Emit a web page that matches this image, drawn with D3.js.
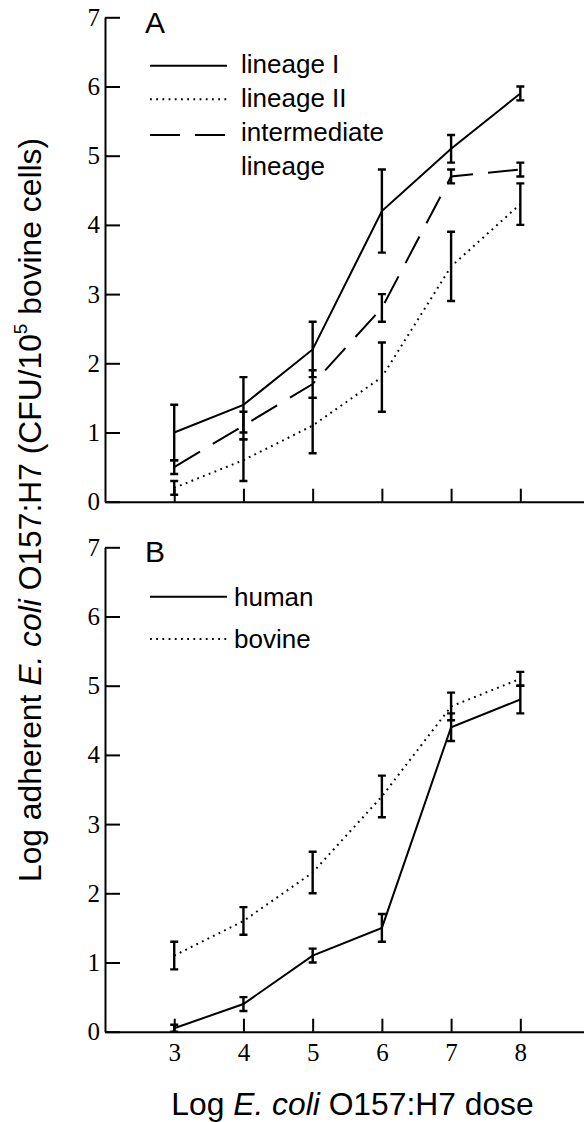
<!DOCTYPE html>
<html>
<head>
<meta charset="utf-8">
<script src="https://cdn.jsdelivr.net/npm/d3@7"></script>
<style>
  html, body { margin: 0; padding: 0; background: #fff; }
  svg { display: block; }
</style>
</head>
<body>
<svg id="chart" width="584" height="1122"></svg>
<script>
// Dose levels (log10 CFU) on the x axis
const doses = [3, 4, 5, 6, 7, 8];
const yTicks = [0, 1, 2, 3, 4, 5, 6, 7];

// Panel A: adherence by lineage (mean and error)
const lineageI = [1.0, 1.4, 2.2, 4.2, 5.1, 5.9];
const lineageIErr = [0.4, 0.4, 0.4, 0.6, 0.2, 0.1];
const lineageII = [0.2, 0.6, 1.1, 1.8, 3.4, 4.3];
const lineageIIErr = [0.1, 0.3, 0.4, 0.5, 0.5, 0.3];
const intermediate = [0.5, 1.1, 1.7, 2.8, 4.7, 4.8];
const intermediateErr = [0.1, 0.2, 0.2, 0.2, 0.1, 0.1];

// Panel B: adherence by isolate source
const human = [0.05, 0.4, 1.1, 1.5, 4.4, 4.8];
const humanErr = [0.05, 0.1, 0.1, 0.2, 0.2, 0.2];
const bovine = [1.1, 1.6, 2.3, 3.4, 4.7, 5.1];
const bovineErr = [0.2, 0.2, 0.3, 0.3, 0.2, 0.1];

const SANS = "'Liberation Sans', Arial, sans-serif";
const SERIF = "'Liberation Serif', 'Times New Roman', serif";

const svg = d3.select("#chart");

const x = d3.scaleLinear().domain([2, 8.92]).range([105, 584]);
const yA = d3.scaleLinear().domain([0, 7]).range([501.7, 17.3]);
const yB = d3.scaleLinear().domain([0, 7]).range([1031.7, 547.3]);

const styles = {
  solid: null,
  dotted: "1.8,4.4",
  dashed: "30,15"
};

function drawPanel(y, letter, series, legend, showXLabels) {
  const g = svg.append("g");

  // y axis: ticks pointing inward, serif numerals
  const ya = g.append("g")
    .attr("transform", `translate(${x(2)},0)`)
    .call(d3.axisLeft(y).tickValues(yTicks).tickSize(-15).tickSizeOuter(0).tickPadding(5).tickFormat(d3.format("d")));
  ya.selectAll("path, line").attr("stroke", "#000").attr("stroke-width", 2);
  ya.selectAll("text").attr("font-family", SERIF).attr("font-size", 25).attr("fill", "#000");

  // x axis: upward ticks
  const xa = g.append("g")
    .attr("transform", `translate(0,${y(0)})`)
    .call(d3.axisBottom(x).tickValues(doses).tickSize(-13).tickSizeOuter(0).tickPadding(11.5)
      .tickFormat(showXLabels ? d3.format("d") : () => ""));
  xa.selectAll("path, line").attr("stroke", "#000").attr("stroke-width", 2);
  xa.selectAll("text").attr("font-family", SERIF).attr("font-size", 25).attr("fill", "#000");

  // error bars
  series.forEach(s => {
    const path = d3.path();
    s.values.forEach((v, i) => {
      const cx = x(doses[i]);
      const top = y(v + s.err[i]);
      const bot = y(Math.max(0, v - s.err[i]));
      path.moveTo(cx, top); path.lineTo(cx, bot);
      path.moveTo(cx - 4, top); path.lineTo(cx + 4, top);
      path.moveTo(cx - 4, bot); path.lineTo(cx + 4, bot);
    });
    g.append("path")
      .attr("d", path.toString())
      .attr("fill", "none")
      .attr("stroke", "#000")
      .attr("stroke-width", 2.4);
  });

  // series lines
  const line = d3.line().x((d, i) => x(doses[i])).y(d => y(d));
  series.forEach(s => {
    g.append("path")
      .attr("d", line(s.values))
      .attr("fill", "none")
      .attr("stroke", "#000")
      .attr("stroke-width", 2)
      .attr("stroke-dasharray", styles[s.style]);
  });

  // panel letter
  g.append("text")
    .attr("x", 145).attr("y", legend.letterY)
    .attr("font-family", SANS).attr("font-size", 30)
    .text(letter);

  // legend
  legend.rows.forEach(r => {
    if (r.style !== undefined) {
      g.append("line")
        .attr("x1", 150).attr("x2", 227)
        .attr("y1", r.lineY).attr("y2", r.lineY)
        .attr("stroke", "#000").attr("stroke-width", 2)
        .attr("stroke-dasharray", styles[r.style]);
    }
    g.append("text")
      .attr("x", legend.textX).attr("y", r.textY)
      .attr("font-family", SANS).attr("font-size", 26)
      .text(r.label);
  });
}

drawPanel(yA, "A", [
  { values: lineageI, err: lineageIErr, style: "solid" },
  { values: lineageII, err: lineageIIErr, style: "dotted" },
  { values: intermediate, err: intermediateErr, style: "dashed" }
], {
  letterY: 33,
  textX: 241,
  rows: [
    { label: "lineage I", style: "solid", lineY: 65.7, textY: 73 },
    { label: "lineage II", style: "dotted", lineY: 99.3, textY: 107 },
    { label: "intermediate", style: "dashed", lineY: 135, textY: 141 },
    { label: "lineage", textY: 175 }
  ]
}, false);

drawPanel(yB, "B", [
  { values: human, err: humanErr, style: "solid" },
  { values: bovine, err: bovineErr, style: "dotted" }
], {
  letterY: 562,
  textX: 234,
  rows: [
    { label: "human", style: "solid", lineY: 596.7, textY: 606 },
    { label: "bovine", style: "dotted", lineY: 639, textY: 648 }
  ]
}, true);

// x axis title
const xt = svg.append("text")
  .attr("x", 352.5).attr("y", 1115)
  .attr("text-anchor", "middle")
  .attr("font-family", SANS).attr("font-size", 31.8);
xt.append("tspan").text("Log ");
xt.append("tspan").attr("font-style", "italic").text("E. coli");
xt.append("tspan").text(" O157:H7 dose");

// y axis title (shared by both panels)
const yt = svg.append("text")
  .attr("transform", "translate(41,510) rotate(-90)")
  .attr("text-anchor", "middle")
  .attr("font-family", SANS).attr("font-size", 31.8);
yt.append("tspan").text("Log adherent ");
yt.append("tspan").attr("font-style", "italic").text("E. coli");
yt.append("tspan").text(" O157:H7 (CFU/10");
yt.append("tspan").attr("font-size", 19).attr("dy", "-0.75em").text("5");
yt.append("tspan").attr("dy", "0.46em").text(" bovine cells)");
</script>
</body>
</html>
